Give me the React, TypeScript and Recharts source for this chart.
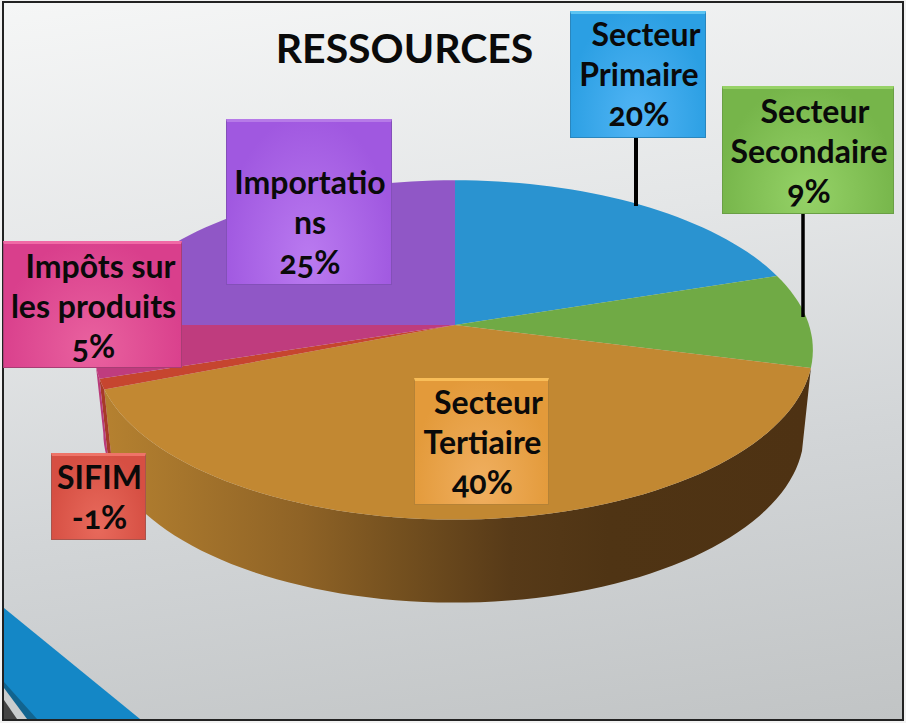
import { PieChart, Pie } from "recharts";

const categories = ["Secteur Primaire", "Secteur Secondaire", "Secteur Tertiaire", "SIFIM", "Impôts sur les produits", "Importations"];
// SIFIM is -1% in the picture, the pie draws its size
const shares = [20, 9, 40, 1, 5, 25];
const shareLabels = ["20%", "9%", "40%", "-1%", "5%", "25%"];
const nameLines = [["Secteur", "Primaire"], ["Secteur", "Secondaire"], ["Secteur", "Tertiaire"], ["SIFIM"], ["Impôts sur", "les produits"], ["Importatio", "ns"]];

const topColors = ["#2a93d0", "#70aa45", "#c28832", "#c6452f", "#bf3c7e", "#9057c6"];
const wallColors = ["none", "none", "url(#wallTertiary)", "#a83a28", "#b93b79", "none"];

const boxes = [
  { x: 570, y: 11, w: 136, h: 127, c1: "#2b9fe3", c2: "#52b5f5", top: "#5cc4f2", border: "#2a86bd", dx: [7, 0, 0], y0: 35 },
  { x: 722, y: 86, w: 172, h: 128, c1: "#76b54a", c2: "#95d267", top: "#97d267", border: "#6a9f45", dx: [6, 0, 0], y0: 112 },
  { x: 414, y: 378, w: 135, h: 127, c1: "#e39a3a", c2: "#f0af60", top: "#f8bd58", border: "#b58236", dx: [6, 0, 0], y0: 403 },
  { x: 51, y: 453, w: 95, h: 87, c1: "#d64f43", c2: "#e86a5c", top: "#ee7468", border: "#a8544c", dx: [0, 0], y0: 478 },
  { x: 3, y: 241, w: 179, h: 127, c1: "#d93f8c", c2: "#e9629f", top: "#f06aa6", border: "#a83d74", dx: [7, 0, 0], y0: 267 },
  { x: 226, y: 119, w: 166, h: 166, c1: "#a058e0", c2: "#ba7af0", top: "#b67ae8", border: "#8350b8", dx: [0, 0, 0], y0: 183 },
];

const W = 906;
const H = 723;
const CX = 455;
const CY = 325;
const RADIUS = 354;
const SQUASH = 0.469;
const PERSP = 0.147;
const DEPTH = 83;
const SHRINK = 0.975;
const LEFT_STRETCH = 1.008;
// angle where the rim turns away on the left, the wall stops there
const LEFT_LIMIT = -171.5;
const FONT = "Lato, 'Open Sans', sans-serif";

const tableData = categories.map((name, i) => ({ name, value: shares[i], fill: topColors[i], wall: wallColors[i] }));

function project(cx: number, cy: number, r: number, deg: number) {
  const a = (deg * Math.PI) / 180;
  const u = Math.cos(a);
  const v = Math.sin(a);
  const w = 1 + PERSP * v;
  const sx = u < 0 ? LEFT_STRETCH : 1;
  return { x: cx + (r * u * sx) / w, y: cy - (r * SQUASH * v) / w };
}

function arcPoints(cx: number, cy: number, r: number, from: number, to: number) {
  const n = Math.max(2, Math.ceil(Math.abs(to - from) / 2));
  const pts = [];
  for (let i = 0; i <= n; i++) pts.push(project(cx, cy, r, from + ((to - from) * i) / n));
  return pts;
}

const toPath = (pts: { x: number; y: number }[]) =>
  pts.map((p, i) => `${i ? "L" : "M"}${p.x.toFixed(1)} ${p.y.toFixed(1)}`).join(" ") + " Z";

const TopSlice = (props: any) => {
  const { cx, cy, outerRadius, startAngle, endAngle, fill } = props;
  const pts = [{ x: cx, y: cy }, ...arcPoints(cx, cy, outerRadius, startAngle, endAngle)];
  return <path d={toPath(pts)} fill={fill} />;
};

const WallSlice = (props: any) => {
  const { cx, cy, outerRadius, startAngle, endAngle, payload, wall } = props;
  const fill = wall ?? payload?.wall;
  if (fill === "none") return null;
  const upper = arcPoints(cx, cy, outerRadius, startAngle, Math.max(endAngle, LEFT_LIMIT));
  const lower = [...upper].reverse().map((p) => ({ x: cx + (p.x - cx) * SHRINK, y: p.y + DEPTH }));
  return <path d={toPath([...upper, ...lower])} fill={fill} />;
};

const Callout = ({ index }: { index: number }) => {
  const b = boxes[index];
  const lines = [...nameLines[index], shareLabels[index]];
  return (
    <div
      style={{
        position: "absolute",
        left: b.x,
        top: b.y,
        width: b.w,
        height: b.h,
        boxSizing: "border-box",
        background: `radial-gradient(ellipse at 50% 85%, ${b.c2} 0%, ${b.c1} 75%)`,
        border: `1px solid ${b.border}`,
        borderTop: `3px solid ${b.top}`,
      }}
    >
      {lines.map((line, i) => (
        <div
          key={i}
          style={{
            position: "absolute",
            left: b.dx[i] ?? 0,
            width: b.w,
            top: b.y0 - b.y - 24 + i * 40,
            height: 40,
            lineHeight: "40px",
            textAlign: "center",
            whiteSpace: "nowrap",
            fontFamily: FONT,
            fontWeight: 700,
            fontSize: 32,
            fontFeatureSettings: "'onum'",
            color: "#0a0a0a",
          }}
        >
          {line}
        </div>
      ))}
    </div>
  );
};

export default function App() {
  return (
    <div style={{ position: "absolute", left: 0, top: 0, width: W, height: H, overflow: "hidden", background: "#f2f2f2" }}>
      <div
        style={{
          position: "absolute",
          left: 2,
          top: 1,
          width: 902,
          height: 720,
          boxSizing: "border-box",
          border: "2px solid #222",
          background: "linear-gradient(172deg, #f5f6f6 0%, #e4e6e7 35%, #d2d5d7 65%, #c1c4c5 100%)",
        }}
      />
      <svg width={W} height={H} style={{ position: "absolute", left: 0, top: 0 }}>
        <polygon points="4,608 140,719 4,719" fill="#1487c6" />
        <polygon points="4,682 37,719 4,719" fill="#12648f" />
        <polygon points="4,688 27,719 4,719" fill="#c9cccd" />
        <polygon points="4,700 17,719 4,719" fill="#444" />
      </svg>
      <div
        style={{
          position: "absolute",
          left: 250,
          top: 25,
          width: 309,
          textAlign: "center",
          fontFamily: FONT,
          fontWeight: 700,
          fontSize: 41,
          lineHeight: "46px",
          color: "#0a0a0a",
        }}
      >
        RESSOURCES
      </div>
      <div style={{ position: "absolute", left: 0, top: 0 }}>
        <PieChart width={W} height={H} margin={{ top: 0, right: 0, bottom: 0, left: 0 }}>
          <defs>
            <linearGradient id="wallTertiary" gradientUnits="userSpaceOnUse" x1="105" y1="0" x2="805" y2="0">
              <stop offset="0%" stopColor="#b58130" />
              <stop offset="28%" stopColor="#8f6326" />
              <stop offset="42%" stopColor="#74501f" />
              <stop offset="58%" stopColor="#573a18" />
              <stop offset="72%" stopColor="#4f3414" />
              <stop offset="100%" stopColor="#4e3213" />
            </linearGradient>
          </defs>
          <Pie
            data={tableData}
            dataKey="value"
            nameKey="name"
            cx={CX}
            cy={CY}
            outerRadius={RADIUS}
            startAngle={90}
            endAngle={-270}
            stroke="none"
            shape={WallSlice}
            isAnimationActive={false}
          />
          <Pie
            data={tableData}
            dataKey="value"
            nameKey="name"
            cx={CX}
            cy={CY}
            outerRadius={RADIUS}
            startAngle={90}
            endAngle={-270}
            stroke="none"
            shape={TopSlice}
            isAnimationActive={false}
          />
        </PieChart>
      </div>
      <svg width={W} height={H} style={{ position: "absolute", left: 0, top: 0, pointerEvents: "none" }}>
        <line x1={636} y1={138} x2={636} y2={206} stroke="#000" strokeWidth={4} />
        <line x1={803} y1={214} x2={803} y2={317} stroke="#000" strokeWidth={3.5} />
      </svg>
      {categories.map((_, i) => (
        <Callout key={i} index={i} />
      ))}
    </div>
  );
}
